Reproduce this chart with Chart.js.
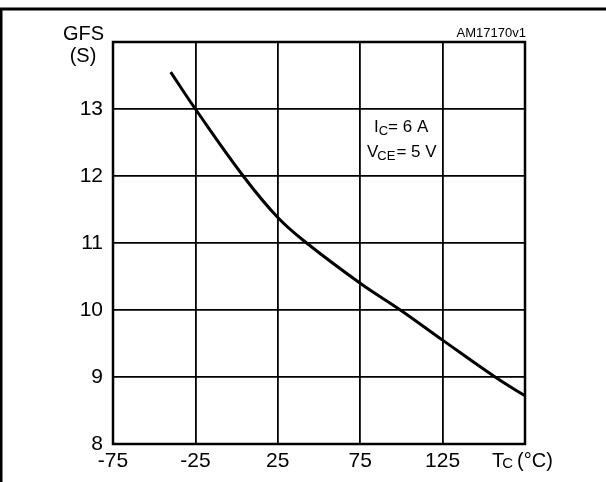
<!DOCTYPE html>
<html>
<head>
<meta charset="utf-8">
<script src="https://cdn.jsdelivr.net/npm/chart.js@4/dist/chart.umd.min.js"></script>
<style>
  html, body { margin: 0; padding: 0; background: #fff; }
  canvas { display: block; }
</style>
</head>
<body>
<canvas id="gfs" width="606" height="482"></canvas>
<script>
// case temperature (°C) and transconductance (S)
const tempC = [-40, -25, 4, 25, 42.5, 75, 100, 125, 158, 175];
const gfsValues = [13.55, 13.0, 12.0, 11.38, 11.0, 10.4, 9.99, 9.55, 8.98, 8.72];

const xTicks = [-75, -25, 25, 75, 125];
const yTicks = [8, 9, 10, 11, 12, 13];

const FONT = 'Arial, "Liberation Sans", sans-serif';

// labels, conditions box and the outer frame
const decorations = {
  id: 'decorations',
  afterDraw(chart) {
    const { ctx, chartArea: a } = chart;
    ctx.save();
    ctx.fillStyle = '#000';
    ctx.strokeStyle = '#000';

    // outer figure frame
    ctx.lineWidth = 3;
    ctx.beginPath();
    ctx.moveTo(1, 482);
    ctx.lineTo(1, 9);
    ctx.lineTo(606, 9);
    ctx.stroke();

    // plot box
    ctx.lineWidth = 2.5;
    ctx.strokeRect(a.left, a.top, a.right - a.left, a.bottom - a.top);

    ctx.textBaseline = 'middle';
    ctx.font = '20px ' + FONT;
    ctx.textAlign = 'right';
    ctx.fillText('GFS', 104, 34);
    ctx.textAlign = 'center';
    ctx.fillText('(S)', 83, 56);

    ctx.font = '13px ' + FONT;
    ctx.textAlign = 'right';
    ctx.fillText('AM17170v1', 526, 33);

    // T_C (°C)
    ctx.textAlign = 'left';
    let x = 492;
    const yb = 461;
    ctx.font = '20px ' + FONT;
    ctx.fillText('T', x, yb);
    x += ctx.measureText('T').width - 2;
    ctx.font = '15px ' + FONT;
    ctx.fillText('C', x, yb + 3);
    x += ctx.measureText('C').width + 4;
    ctx.font = '20px ' + FONT;
    ctx.fillText('(°C)', x, yb);

    // test conditions
    ctx.font = '17px ' + FONT;
    x = 374;
    ctx.fillText('I', x, 127);
    x += ctx.measureText('I').width;
    ctx.font = '13px ' + FONT;
    ctx.fillText('C', x, 131);
    x += ctx.measureText('C').width;
    ctx.font = '17px ' + FONT;
    ctx.fillText('= 6 A', x, 127);

    x = 367;
    ctx.fillText('V', x, 152);
    x += ctx.measureText('V').width - 1;
    ctx.font = '13px ' + FONT;
    ctx.fillText('CE', x, 156);
    x += ctx.measureText('CE').width + 1;
    ctx.font = '17px ' + FONT;
    ctx.fillText('= 5 V', x, 152);

    ctx.restore();
  }
};

new Chart(document.getElementById('gfs'), {
  type: 'line',
  data: {
    datasets: [
      {
        data: tempC.map((t, i) => ({ x: t, y: gfsValues[i] })),
        borderColor: '#000',
        borderWidth: 3,
        pointRadius: 0,
        fill: false,
        tension: 0.4
      }
    ]
  },
  options: {
    responsive: false,
    animation: false,
    devicePixelRatio: 1,
    layout: { padding: { top: 42, right: 81, left: 0, bottom: 0 } },
    plugins: { legend: { display: false }, tooltip: { enabled: false } },
    scales: {
      x: {
        type: 'linear',
        min: -75,
        max: 175,
        afterBuildTicks: (scale) => {
          scale.ticks = [...xTicks, 175].map((v) => ({ value: v }));
        },
        afterFit: (scale) => { scale.height = 38; },
        grid: { color: '#000', lineWidth: 1.8, drawTicks: false },
        border: { display: false },
        ticks: {
          color: '#000',
          font: { family: FONT, size: 21 },
          padding: 5,
          maxRotation: 0,
          callback: (v) => (xTicks.includes(v) ? String(v) : '')
        }
      },
      y: {
        min: 8,
        max: 14,
        afterBuildTicks: (scale) => {
          scale.ticks = [...yTicks, 14].map((v) => ({ value: v }));
        },
        afterFit: (scale) => { scale.width = 113; },
        grid: { color: '#000', lineWidth: 1.8, drawTicks: false },
        border: { display: false },
        ticks: {
          color: '#000',
          font: { family: FONT, size: 21 },
          padding: 10,
          callback: (v) => (yTicks.includes(v) ? String(v) : '')
        }
      }
    }
  },
  plugins: [decorations]
});
</script>
</body>
</html>
